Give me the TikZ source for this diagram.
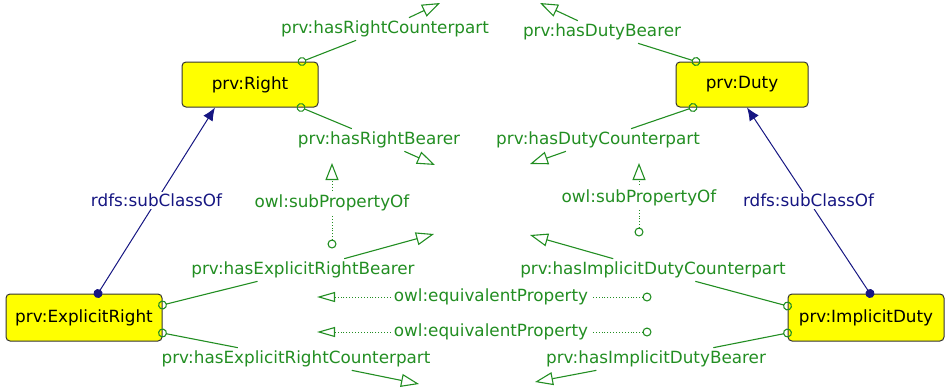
\documentclass[tikz,border=0pt]{standalone}
\usepackage{fontspec}
\setmainfont{DejaVu Sans}
\usepackage{tikz}
\usetikzlibrary{positioning, arrows.meta, calc}

\definecolor{propgreen}{RGB}{34,142,34}
\definecolor{classblue}{RGB}{22,22,130}
\definecolor{boxyellow}{RGB}{255,255,0}

\begin{document}
\begin{tikzpicture}[x=1pt, y=-1pt, font=\fontsize{16.8}{20}\selectfont,
  cls/.style={draw=black!80, fill=boxyellow, rounded corners=4pt, line width=1pt, inner sep=0pt, minimum height=45pt},
  prop/.style={text=propgreen, inner sep=3pt},
  rel/.style={draw=propgreen, line width=1.1pt},
  relstart/.style={rel, {Circle[open, length=9pt]}-, shorten <=-4.5pt},
  relend/.style={rel, -{Triangle[open, length=18pt, width=13pt]}},
  equiv/.style={rel, line width=0.9pt, dash pattern=on 0.9pt off 2pt, {Circle[open, length=9pt, line width=1.1pt]}-{Triangle[open, length=18pt, width=10pt, line width=1.1pt]}},
  subprop/.style={equiv, {Circle[open, length=9pt, line width=1.1pt]}-{Triangle[open, length=17pt, width=13pt, line width=1.1pt]}},
  isa/.style={draw=classblue, line width=1pt, {Circle[length=9pt]}-{Latex[length=13pt, width=11pt]}, shorten <=-4.5pt},
  isalabel/.style={text=classblue, fill=white, inner sep=2pt}
]

% Manually size the picture
\useasboundingbox (0,0) rectangle (945,389);
\clip (0,0) rectangle (945,389);

% Classes
\node[cls, minimum width=136pt] (Right) at (250,84.5) {prv:Right};
\node[cls, minimum width=132pt] (Duty) at (742,84.5) {prv:Duty};
\node[cls, minimum width=156pt, minimum height=47pt] (ExplicitRight) at (84,317.5) {prv:ExplicitRight};
\node[cls, minimum width=156pt, minimum height=47pt] (ImplicitDuty) at (866,317.5) {prv:ImplicitDuty};

% Subclass arrows
\draw[isa] ([xshift=14pt]ExplicitRight.north) -- node[isalabel] (isaL) {rdfs:subClassOf} ([xshift=-35pt]Right.south);
\draw[isa] ([xshift=4pt]ImplicitDuty.north) -- node[isalabel] (isaR) {rdfs:subClassOf} ([xshift=5pt]Duty.south);

% Property labels
\node[prop] (hasRC) at (385,29) {prv:hasRightCounterpart};
\node[prop] (hasRB) at (379,140) {prv:hasRightBearer};
\node[prop] (hasDB) at (602,32) {prv:hasDutyBearer};
\node[prop] (hasDC) at (598,140) {prv:hasDutyCounterpart};
\node[prop] (hasERB) at (303,270) {prv:hasExplicitRightBearer};
\node[prop] (hasERC) at (296,359) {prv:hasExplicitRightCounterpart};
\node[prop] (hasIDC) at (653,270) {prv:hasImplicitDutyCounterpart};
\node[prop] (hasIDB) at (656,359) {prv:hasImplicitDutyBearer};

% Free ends of the property arrows
\coordinate (rcTip) at (440,3);
\coordinate (rbTip) at (435,165);
\coordinate (dbTip) at (540,3);
\coordinate (dcTip) at (530,164);
\coordinate (erbTip) at (434,234);
\coordinate (ercTip) at (419,384);
\coordinate (idcTip) at (530,235);
\coordinate (idbTip) at (535,382);

% Domains
\draw[relstart] ([xshift=52pt]Right.north) -- (hasRC);
\draw[relstart] ([xshift=51pt]Right.south) -- (hasRB);
\draw[relstart] ([xshift=-46pt]Duty.north) -- (hasDB);
\draw[relstart] ([xshift=-49pt]Duty.south) -- (hasDC);
\draw[relstart] ([yshift=12.5pt]ExplicitRight.east) -- (hasERB);
\draw[relstart] ([yshift=-15.5pt]ExplicitRight.east) -- (hasERC);
\draw[relstart] ([yshift=11.5pt]ImplicitDuty.west) -- (hasIDC);
\draw[relstart] ([yshift=-15.5pt]ImplicitDuty.west) -- (hasIDB);

% Ranges
\draw[relend] (hasRC) -- (rcTip);
\draw[relend] (hasRB) -- (rbTip);
\draw[relend] (hasDB) -- (dbTip);
\draw[relend] (hasDC) -- (dcTip);
\draw[relend] (hasERB) -- (erbTip);
\draw[relend] (hasERC) -- (ercTip);
\draw[relend] (hasIDC) -- (idcTip);
\draw[relend] (hasIDB) -- (idbTip);

% Sub properties
\coordinate (subLfrom) at (332,248.5);
\coordinate (subLto) at (332,163);
\coordinate (subRfrom) at (639,236.5);
\coordinate (subRto) at (639,163);
\draw[subprop] (subLfrom) -- node[prop, fill=white, pos=0.53] (subL) {owl:subPropertyOf} (subLto);
\draw[subprop] (subRfrom) -- node[prop, fill=white, pos=0.52] (subR) {owl:subPropertyOf} (subRto);

% Equivalent properties
\coordinate (eqAfrom) at (651.5,297);
\coordinate (eqAto) at (317,297);
\coordinate (eqBfrom) at (651.5,332);
\coordinate (eqBto) at (317,332);
\draw[equiv] (eqAfrom) -- node[prop, fill=white, pos=0.48] (eqA) {owl:equivalentProperty} (eqAto);
\draw[equiv] (eqBfrom) -- node[prop, fill=white, pos=0.48] (eqB) {owl:equivalentProperty} (eqBto);

\end{tikzpicture}
\end{document}
